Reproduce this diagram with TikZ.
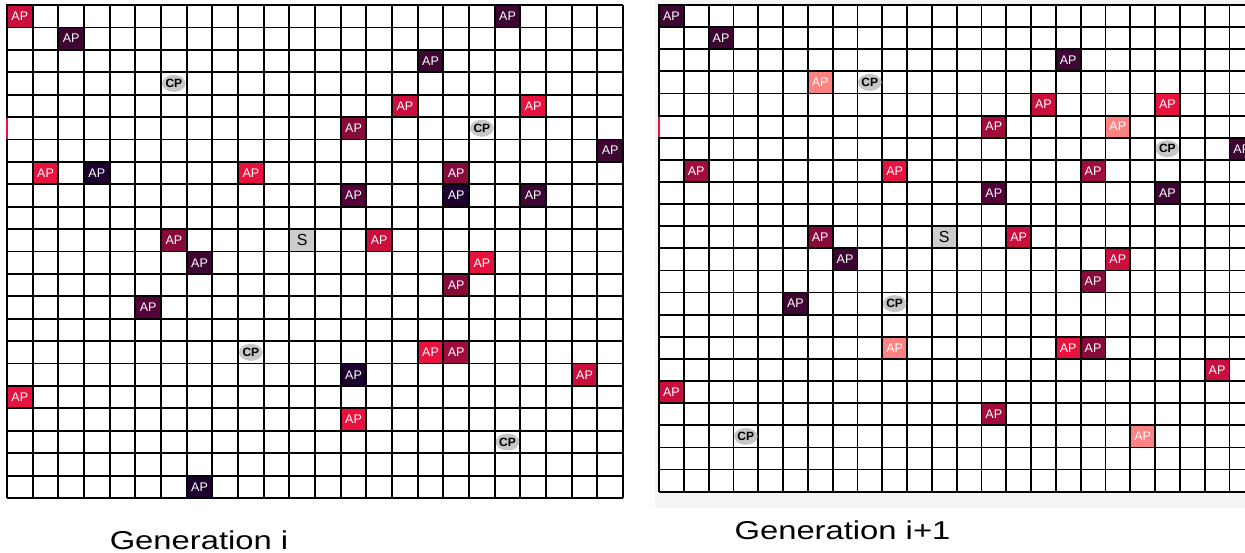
\documentclass[tikz,border=0pt]{standalone}
\usepackage{fontspec}
\setmainfont{Liberation Sans}
\usetikzlibrary{shapes.geometric}
\definecolor{apnavy}{HTML}{1E0030}
\definecolor{apdark}{HTML}{3C0532}
\definecolor{applum}{HTML}{550038}
\definecolor{apmaroon}{HTML}{860A3A}
\definecolor{apwine}{HTML}{A00C3C}
\definecolor{apcrim}{HTML}{C80F3E}
\definecolor{apred}{HTML}{E8123F}
\definecolor{apsalmon}{HTML}{FF8282}
\tikzset{
  gridline/.style={line width=1.8pt, draw=black},
  apcell/.style={rectangle, draw=black, line width=1.8pt, inner sep=0pt, text=white, font=\fontsize{12.5}{14}\selectfont},
  cpmark/.style={ellipse, fill=black!22, minimum width=20pt, minimum height=17pt, inner sep=0pt, font=\bfseries\fontsize{12}{14}\selectfont},
  sinkcell/.style={rectangle, fill=black!20, draw=black, line width=1.8pt, inner sep=0pt, font=\fontsize{16}{18}\selectfont},
  gencaption/.style={anchor=base, xscale=1.27, transform shape, font=\fontsize{25.8}{30}\selectfont}
}
\begin{document}
\begin{tikzpicture}[x=1pt, y=-1pt]
  \useasboundingbox (0,0) rectangle (1245,552);
  \fill[white] (0,0) rectangle (1245,552);
  \fill[black!4] (655,0) rectangle (1245,508);

  \begin{scope}[shift={(7,5)}, x=25.667pt, y=-22.41pt,
      apcell/.append style={minimum width=25.667pt, minimum height=22.41pt},
      sinkcell/.append style={minimum width=25.667pt, minimum height=22.41pt}]
    \foreach \i in {0,...,24} \draw[gridline] (\i,0) -- (\i,22);
    \foreach \j in {0,...,22} \draw[gridline] (0,\j) -- (24,\j);
    \foreach \c/\r/\col in {0/0/apcrim, 19/0/apdark, 2/1/apdark, 16/2/apdark,
        15/4/apcrim, 20/4/apred, 13/5/apmaroon, 23/6/apdark, 1/7/apred,
        3/7/apnavy, 9/7/apred, 17/7/apmaroon, 13/8/applum, 17/8/apnavy,
        20/8/apdark, 6/10/apmaroon, 14/10/apcrim, 7/11/apdark, 18/11/apred,
        17/12/apmaroon, 5/13/applum, 16/15/apred, 17/15/apwine, 13/16/apnavy,
        22/16/apcrim, 0/17/apred, 13/18/apred, 7/21/apnavy}
      \node[apcell, fill=\col] (L-\c-\r) at (\c+0.5,\r+0.5) {AP};
    \foreach \c/\r in {6/3, 18/5, 9/15, 19/19}
      \node[cpmark] (Lcp-\c-\r) at (\c+0.5,\r+0.5) {CP};
    \node[sinkcell] (Lsink) at (11.5,10.5) {S};
  \end{scope}
  \fill[apred] (5.8,117.5) rectangle (7.6,139);

  \begin{scope}
    \clip (650,0) rectangle (1245,552);
    \begin{scope}[shift={(659,5)}, x=24.8pt, y=-22.12pt,
        apcell/.append style={minimum width=24.8pt, minimum height=22.12pt},
        sinkcell/.append style={minimum width=24.8pt, minimum height=22.12pt}]
      \fill[white] (0,0) rectangle (24,22);
      \foreach \i in {0,...,24} \draw[gridline] (\i,0) -- (\i,22);
      \foreach \j in {0,...,22} \draw[gridline] (0,\j) -- (24,\j);
      \foreach \c/\r/\col in {0/0/apdark, 2/1/apdark, 16/2/apdark, 6/3/apsalmon,
          15/4/apcrim, 20/4/apred, 13/5/apwine, 18/5/apsalmon, 23/6/apdark,
          1/7/apwine, 9/7/apred, 17/7/apwine, 13/8/applum, 20/8/apdark,
          6/10/apmaroon, 14/10/apcrim, 7/11/apdark, 18/11/apcrim,
          17/12/apmaroon, 5/13/apdark, 9/15/apsalmon, 16/15/apred,
          17/15/apmaroon, 22/16/apcrim, 0/17/apcrim, 13/18/apwine,
          19/19/apsalmon}
        \node[apcell, fill=\col] (R-\c-\r) at (\c+0.5,\r+0.5) {AP};
      \foreach \c/\r in {8/3, 20/6, 9/13, 3/19}
        \node[cpmark] (Rcp-\c-\r) at (\c+0.5,\r+0.5) {CP};
      \node[sinkcell] (Rsink) at (11.5,10.5) {S};
    \end{scope}
  \end{scope}
  \fill[apred] (658.3,117) rectangle (660,137);

  \node[gencaption] (geni) at (199,549) {Generation i};
  \node[gencaption] (genj) at (842.5,539.3) {Generation i+1};
\end{tikzpicture}
\end{document}
